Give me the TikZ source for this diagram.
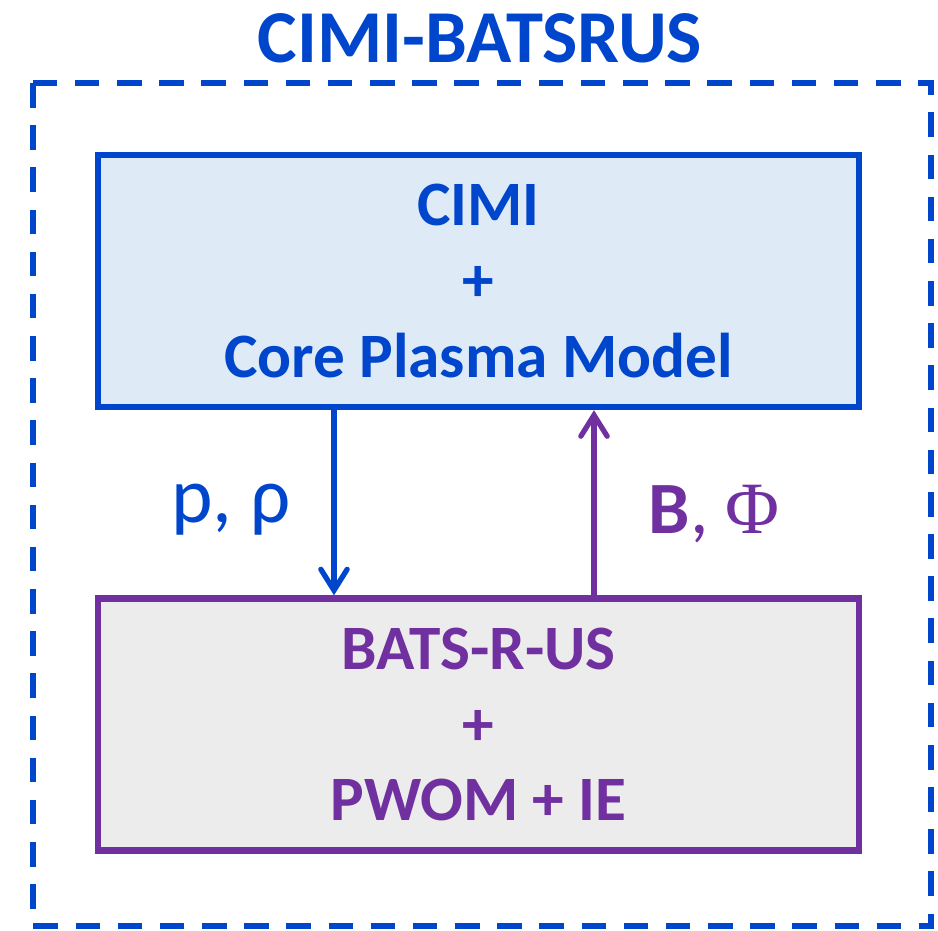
\documentclass[tikz,border=0pt]{standalone}
\usepackage{fontspec}
\setmainfont{Carlito}
\newfontfamily\symbfont{Liberation Serif}
\usetikzlibrary{arrows.meta}

\definecolor{cimiblue}{RGB}{0,70,204}
\definecolor{batspurple}{RGB}{112,48,160}
\definecolor{cimifill}{RGB}{222,234,246}
\definecolor{batsfill}{RGB}{236,236,236}

\tikzset{
	model/.style={draw, line width=3.6pt, minimum width=761*0.02cm, minimum height=252*0.02cm,
		align=center, font=\fontsize{36}{43}\selectfont\bfseries, inner sep=0pt},
	link/.style={line width=3pt, -{Straight Barb[length=12pt, width=15pt, line cap=round]}},
}

\begin{document}
\begin{tikzpicture}[x=0.02cm, y=-0.02cm]
	\useasboundingbox (0,0) rectangle (938,931);
	% coupled frame
	\draw[cimiblue, line width=3.8pt, dash pattern=on 14pt off 10pt] (33,83) rectangle (931,926);
	\node[font=\fontsize{42.5}{50}\selectfont\bfseries, text=cimiblue] (title) at (480,38) {CIMI-BATSRUS};
	% the two models
	\node[model, draw=cimiblue, fill=cimifill, text=cimiblue] (cimi) at (478.5,281) {CIMI\\+\\Core Plasma Model};
	\node[model, draw=batspurple, fill=batsfill, text=batspurple] (bats) at (478.5,724.5) {BATS-R-US\\+\\PWOM + IE};
	% exchanged quantities
	\draw[link, cimiblue] ([xshift=-144.5*0.02cm]cimi.south) -- ([xshift=-144.5*0.02cm]bats.north);
	\draw[link, batspurple] ([xshift=115.5*0.02cm]bats.north) -- ([xshift=115.5*0.02cm]cimi.south);
	\node[font=\fontsize{45}{50}\selectfont, text=cimiblue] (prho) at (231,510) {p, ρ};
	\node[font=\fontsize{42}{50}\selectfont, text=batspurple] (bphi) at (714,514) {\textbf{B}, {\symbfont Φ}};
\end{tikzpicture}
\end{document}
